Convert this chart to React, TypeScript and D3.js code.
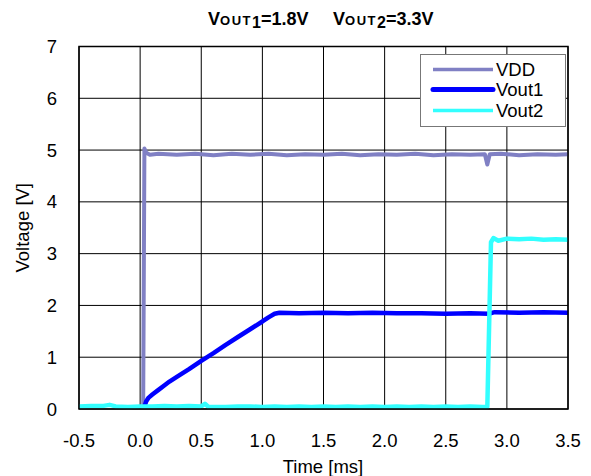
import React from "react";
import * as d3 from "d3";

const xTicks = [-0.5, 0.0, 0.5, 1.0, 1.5, 2.0, 2.5, 3.0, 3.5];
const yTicks = [0, 1, 2, 3, 4, 5, 6, 7];

const vddT = [0.02, 0.025, 0.035, 0.05, 0.08, 0.15, 0.3, 0.45, 0.6, 0.75, 0.9, 1.05, 1.2, 1.35, 1.5, 1.65, 1.8, 1.95, 2.1, 2.25, 2.4, 2.55, 2.7, 2.82, 2.84, 2.86, 2.95, 3.1, 3.25, 3.4, 3.5];
const vddV = [0.04, 0.04, 5.03, 4.95, 4.91, 4.93, 4.91, 4.93, 4.9, 4.93, 4.91, 4.93, 4.9, 4.92, 4.91, 4.93, 4.9, 4.92, 4.91, 4.93, 4.9, 4.92, 4.91, 4.92, 4.72, 4.92, 4.93, 4.9, 4.92, 4.91, 4.92];

const vout1T = [0.035, 0.05, 0.07, 0.1, 0.15, 0.2, 0.24, 0.3, 0.4, 0.5, 0.6, 0.7, 0.8, 0.9, 1.0, 1.05, 1.1, 1.14, 1.3, 1.5, 1.7, 1.9, 2.1, 2.3, 2.5, 2.7, 2.85, 2.9, 3.1, 3.3, 3.5];
const vout1V = [0.05, 0.15, 0.22, 0.28, 0.37, 0.46, 0.53, 0.62, 0.77, 0.93, 1.08, 1.24, 1.39, 1.54, 1.69, 1.77, 1.84, 1.86, 1.85, 1.86, 1.85, 1.86, 1.85, 1.85, 1.84, 1.85, 1.84, 1.87, 1.86, 1.87, 1.86];

const vout2T = [-0.5, -0.4, -0.3, -0.25, -0.2, -0.1, 0.0, 0.1, 0.2, 0.3, 0.4, 0.5, 0.53, 0.56, 0.7, 0.8, 0.9, 1.0, 1.1, 1.2, 1.3, 1.4, 1.5, 1.6, 1.7, 1.8, 1.9, 2.0, 2.1, 2.2, 2.3, 2.4, 2.5, 2.6, 2.7, 2.8, 2.84, 2.87, 2.89, 2.93, 3.0, 3.1, 3.2, 3.3, 3.4, 3.5];
const vout2V = [0.05, 0.06, 0.06, 0.08, 0.05, 0.04, 0.05, 0.05, 0.06, 0.05, 0.06, 0.05, 0.1, 0.04, 0.04, 0.05, 0.05, 0.04, 0.05, 0.04, 0.05, 0.04, 0.05, 0.04, 0.05, 0.04, 0.05, 0.04, 0.05, 0.04, 0.05, 0.04, 0.05, 0.04, 0.05, 0.04, 0.04, 3.22, 3.3, 3.25, 3.29, 3.28, 3.29, 3.27, 3.28, 3.27];

const seriesNames = ["VDD", "Vout1", "Vout2"];
const seriesColors = ["#8080c4", "#0000ff", "#33ffff"];
const seriesWidths = [4, 4.5, 4.5];

const FONT = "'Liberation Sans', Arial, sans-serif";

export default function App() {
  const W = 591, H = 476;
  const left = 79, right = 568, top = 46.5, bottom = 409;
  const x = d3.scaleLinear().domain([-0.5, 3.5]).range([left, right]);
  const y = d3.scaleLinear().domain([0, 7]).range([bottom, top]);
  const line = d3.line<[number, number]>().x(d => x(d[0])).y(d => y(d[1]));
  const data = [
    vddT.map((t, i) => [t, vddV[i]] as [number, number]),
    vout1T.map((t, i) => [t, vout1V[i]] as [number, number]),
    vout2T.map((t, i) => [t, vout2V[i]] as [number, number]),
  ];
  const legX = 420.5, legY = 54.5, legW = 145, legH = 72;
  const legRows = [69.5, 89.5, 110.5];
  return (
    <svg width={W} height={H} style={{ position: "absolute", left: 0, top: 0 }} fontFamily={FONT}>
      <rect x={0} y={0} width={W} height={H} fill="#fff" />
      <text x={208} y={25} fontWeight="bold" fontSize={18} fill="#000">
        <tspan>V</tspan>
        <tspan fontSize={13} letterSpacing={1.5}>OUT</tspan>
        <tspan fontSize={16} dy={3}>1</tspan>
        <tspan dy={-3}>=1.8V</tspan>
        <tspan x={333}>V</tspan>
        <tspan fontSize={13} letterSpacing={1.5}>OUT</tspan>
        <tspan fontSize={16} dy={3}>2</tspan>
        <tspan dy={-3}>=3.3V</tspan>
      </text>
      {xTicks.map(t => (
        <line key={"gx" + t} x1={x(t)} x2={x(t)} y1={top} y2={bottom} stroke="#000" strokeWidth={1} />
      ))}
      {yTicks.map(t => (
        <line key={"gy" + t} x1={left} x2={right} y1={y(t)} y2={y(t)} stroke="#000" strokeWidth={1} />
      ))}
      {data.map((d, i) => (
        <path key={seriesNames[i]} d={line(d) || ""} fill="none" stroke={seriesColors[i]} strokeWidth={seriesWidths[i]} strokeLinejoin="round" />
      ))}
      <rect x={left} y={top} width={right - left} height={bottom - top} fill="none" stroke="#000" strokeWidth={1.5} />
      <rect x={legX} y={legY} width={legW} height={legH} fill="#fff" stroke="#777" strokeWidth={1} />
      {seriesNames.map((n, i) => (
        <g key={"leg" + n}>
          <line x1={433} x2={493} y1={legRows[i]} y2={legRows[i]} stroke={seriesColors[i]} strokeWidth={i === 1 ? 5 : 3.5} strokeLinecap={i === 1 ? "round" : "butt"} />
          <text x={496} y={legRows[i] + 6.5} fontSize={18.5} fill="#000">{n}</text>
        </g>
      ))}
      {yTicks.map(t => (
        <text key={"ty" + t} x={57} y={y(t) + 6.5} fontSize={18.5} textAnchor="end" fill="#000">{t}</text>
      ))}
      {xTicks.map(t => (
        <text key={"tx" + t} x={x(t)} y={447} fontSize={18.5} textAnchor="middle" fill="#000">{t.toFixed(1)}</text>
      ))}
      <text x={323} y={472.5} fontSize={18.5} textAnchor="middle" fill="#000">Time [ms]</text>
      <text transform={`translate(28.5, ${(top + bottom) / 2}) rotate(-90)`} fontSize={18.5} textAnchor="middle" fill="#000">Voltage [V]</text>
    </svg>
  );
}
